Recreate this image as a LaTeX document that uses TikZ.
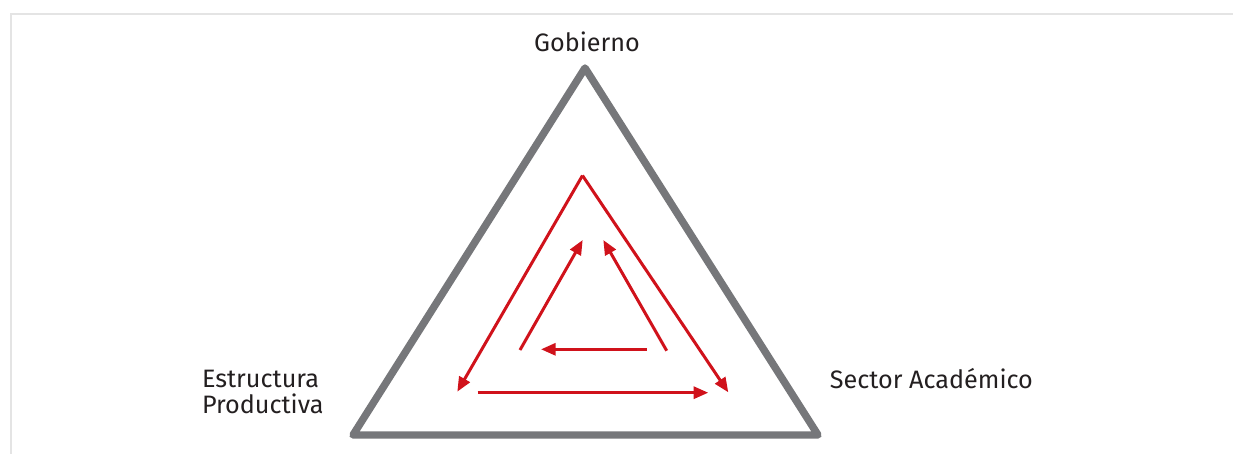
\documentclass[tikz,border=0pt]{standalone}
\usepackage{fontspec}
\setmainfont{Fira Sans}
\usetikzlibrary{arrows.meta}
\definecolor{trigray}{RGB}{118,119,122}
\definecolor{flowred}{RGB}{208,18,27}
\definecolor{framegray}{RGB}{228,228,228}
\definecolor{labeltext}{RGB}{35,31,32}
\tikzset{every picture/.style={line width=0.75pt}}
\tikzset{
  flow/.style={draw=flowred, line width=2.25pt, -{Triangle[length=11pt,width=9pt]}},
  vertexlabel/.style={font=\fontsize{18.9}{19.5}\selectfont, text=labeltext, inner sep=0pt, align=left}
}
\begin{document}
\begin{tikzpicture}[x=0.75pt,y=0.75pt,yscale=-1,xscale=1]
\useasboundingbox (0,0) rectangle (1233,454);
%Frame
\draw [color=framegray, line width=1.5pt] (10.5,454) -- (10.5,13.5) -- (1233,13.5) ;
%Shape: Triangle
\coordinate (top) at (585,68);
\coordinate (left) at (353,435);
\coordinate (right) at (818,435);
\draw [color=trigray, line width=5.6pt, line join=round] (top) -- (left) -- (right) -- cycle ;
%Outer arrows
\coordinate (oapex) at (582.5,175.5);
\coordinate (oleft) at (457.3,391.7);
\coordinate (oright) at (728.3,392.3);
\coordinate (bstart) at (477.7,392.7);
\coordinate (bend) at (708.3,392.7);
\draw [flow] (oapex) -- (oleft) ;
\draw [flow] (oapex) -- (oright) ;
\draw [flow] (bstart) -- (bend) ;
%Inner arrows
\coordinate (ilstart) at (520,350);
\coordinate (iltip) at (582.7,240);
\coordinate (irstart) at (666.7,350.7);
\coordinate (irtip) at (603.3,240);
\coordinate (imstart) at (646.7,349.3);
\coordinate (imtip) at (541,349.3);
\draw [flow] (ilstart) -- (iltip) ;
\draw [flow] (irstart) -- (irtip) ;
\draw [flow] (imstart) -- (imtip) ;
% Text Node
\node (gobierno) [vertexlabel, anchor=base] at (587,51.7) {Gobierno};
% Text Node
\node (estructura) [vertexlabel, anchor=base west] at (201.5,413.3) {Estructura\\[0pt]Productiva};
% Text Node
\node (academico) [vertexlabel, anchor=base west] at (829.3,388.3) {Sector Académico};
\end{tikzpicture}
\end{document}
